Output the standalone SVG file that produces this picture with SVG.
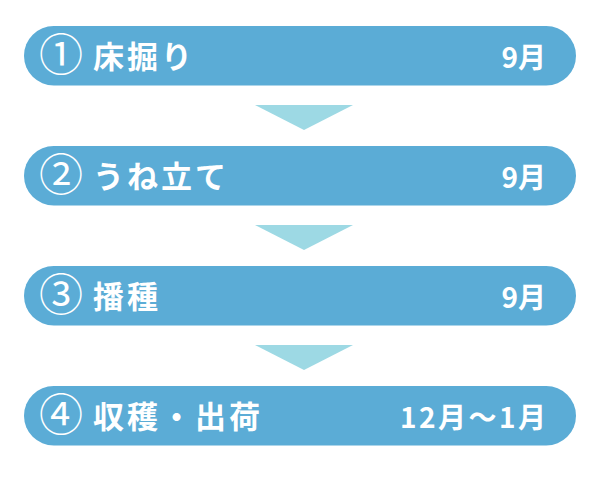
<svg xmlns="http://www.w3.org/2000/svg" width="600" height="480" viewBox="0 0 600 480">
<style>
.pill{fill:#5BACD6}
.tri{fill:#9DD9E4}
.num{font-family:"Noto Sans CJK JP","DejaVu Sans",sans-serif;font-size:44px;fill:#fff}
.lbl{font-family:"Noto Sans CJK JP",sans-serif;font-size:31px;font-weight:bold;fill:#fff;letter-spacing:3px}
.date{font-family:"Noto Sans CJK JP",sans-serif;font-size:28px;font-weight:bold;fill:#fff;text-anchor:end}
</style>
<rect width="600" height="480" fill="#fff"/>
<g id="connectors">
<polygon class="tri" points="255,105 353,105 304,130"/>
<polygon class="tri" points="255,225 353,225 304,250"/>
<polygon class="tri" points="255,345 353,345 304,370"/>
</g>
<g id="step1">
<rect class="pill" x="24" y="26" width="552" height="59.5" rx="29.75"/>
<text class="num" x="39" y="71">①</text>
<text class="lbl" x="93" y="68">床掘り</text>
<text class="date" x="546" y="68">9月</text>
</g>
<g id="step2">
<rect class="pill" x="24" y="146" width="552" height="59.5" rx="29.75"/>
<text class="num" x="39" y="191">②</text>
<text class="lbl" x="93" y="188">うね立て</text>
<text class="date" x="546" y="188">9月</text>
</g>
<g id="step3">
<rect class="pill" x="24" y="266" width="552" height="59.5" rx="29.75"/>
<text class="num" x="39" y="311">③</text>
<text class="lbl" x="93" y="308">播種</text>
<text class="date" x="546" y="308">9月</text>
</g>
<g id="step4">
<rect class="pill" x="24" y="386" width="552" height="59.5" rx="29.75"/>
<text class="num" x="39" y="431">④</text>
<text class="lbl" x="93" y="428">収穫・出荷</text>
<text class="date" x="546" y="428" textLength="146" lengthAdjust="spacing">12月～1月</text>
</g>
</svg>
